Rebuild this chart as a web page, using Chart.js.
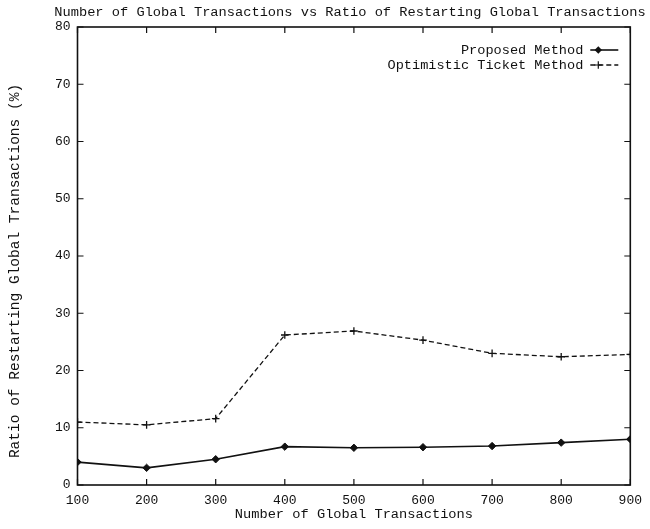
<!DOCTYPE html>
<html>
<head>
<meta charset="utf-8">
<title>Restarting Global Transactions</title>
<script src="https://cdn.jsdelivr.net/npm/chart.js@4.4.1/dist/chart.umd.min.js"></script>
<style>
    html, body { margin: 0; padding: 0; background: #fff; }
    #wrap { width: 650px; height: 529px; }
</style>
</head>
<body>
<div id="wrap"><canvas id="restartChart"></canvas></div>
<script>
// Chart data
const transactions = [100, 200, 300, 400, 500, 600, 700, 800, 900];
const proposedMethod = [4.0, 3.0, 4.5, 6.7, 6.5, 6.6, 6.8, 7.4, 8.0];
const optimisticTicket = [11.0, 10.5, 11.6, 26.2, 26.9, 25.3, 23.0, 22.4, 22.8];
const xTickValues = [100, 200, 300, 400, 500, 600, 700, 800, 900];
const yTickValues = [0, 10, 20, 30, 40, 50, 60, 70, 80];
const seriesNames = ['Proposed Method', 'Optimistic Ticket Method'];
const chartTitle = 'Number of Global Transactions vs Ratio of Restarting Global Transactions';
const xAxisTitle = 'Number of Global Transactions';
const yAxisTitle = 'Ratio of Restarting Global Transactions (%)';

const INK = '#111';
const MONO = '"Liberation Mono", "DejaVu Sans Mono", monospace';

// Chart title and the y axis title sit off-centre in the original,
// so both are drawn here instead of by the built-in title options
const titlePlugin = {
    id: 'plotTitles',
    afterDraw(chart) {
        const ctx = chart.ctx;
        ctx.save();
        ctx.fillStyle = INK;
        ctx.textAlign = 'center';
        ctx.textBaseline = 'middle';
        ctx.font = '13.7px ' + MONO;
        ctx.fillText(chartTitle, 350, 12);
        ctx.translate(15, 271);
        ctx.rotate(-Math.PI / 2);
        ctx.font = '14.5px ' + MONO;
        ctx.fillText(yAxisTitle, 0, 0);
        ctx.restore();
    }
};

// Box frame with inward ticks on all four sides
const framePlugin = {
    id: 'frameTicks',
    afterDatasetsDraw(chart) {
        const { ctx, chartArea: a, scales } = chart;
        const len = 6;
        ctx.save();
        ctx.strokeStyle = INK;
        ctx.lineWidth = 1.6;
        ctx.strokeRect(a.left, a.top, a.right - a.left, a.bottom - a.top);
        ctx.lineWidth = 1.2;
        ctx.beginPath();
        xTickValues.forEach(v => {
            const px = scales.x.getPixelForValue(v);
            ctx.moveTo(px, a.bottom); ctx.lineTo(px, a.bottom - len);
            ctx.moveTo(px, a.top); ctx.lineTo(px, a.top + len);
        });
        yTickValues.forEach(v => {
            const py = scales.y.getPixelForValue(v);
            ctx.moveTo(a.left, py); ctx.lineTo(a.left + len, py);
            ctx.moveTo(a.right, py); ctx.lineTo(a.right - len, py);
        });
        ctx.stroke();
        ctx.restore();
    }
};

function drawMarker(ctx, style, x, y, r) {
    ctx.beginPath();
    if (style === 'rectRot') {
        ctx.moveTo(x, y - r); ctx.lineTo(x + r, y);
        ctx.lineTo(x, y + r); ctx.lineTo(x - r, y);
        ctx.closePath();
        ctx.fill();
    } else {
        ctx.moveTo(x - r, y); ctx.lineTo(x + r, y);
        ctx.moveTo(x, y - r); ctx.lineTo(x, y + r);
        ctx.stroke();
    }
}

// gnuplot-style key: right-aligned text, sample to the right
const keyPlugin = {
    id: 'insideKey',
    afterDraw(chart) {
        const ctx = chart.ctx;
        const a = chart.chartArea;
        const textRight = a.right - 47;
        ctx.save();
        ctx.font = '13.6px ' + MONO;
        ctx.textAlign = 'right';
        ctx.textBaseline = 'middle';
        chart.data.datasets.forEach((ds, i) => {
            const y = a.top + 23 + i * 15;
            ctx.fillStyle = INK;
            ctx.fillText(ds.label, textRight, y);
            ctx.strokeStyle = INK;
            ctx.lineWidth = ds.borderWidth;
            ctx.setLineDash(ds.borderDash || []);
            ctx.beginPath();
            ctx.moveTo(textRight + 7, y);
            ctx.lineTo(a.right - 12, y);
            ctx.stroke();
            ctx.setLineDash([]);
            ctx.lineWidth = 1.2;
            drawMarker(ctx, ds.pointStyle, textRight + 15, y, ds.pointRadius);
        });
        ctx.restore();
    }
};

const ctx = document.getElementById('restartChart').getContext('2d');
new Chart(ctx, {
    type: 'line',
    data: {
        datasets: [{
            label: seriesNames[0],
            data: transactions.map((t, i) => ({ x: t, y: proposedMethod[i] })),
            borderColor: INK,
            backgroundColor: INK,
            borderWidth: 1.6,
            pointStyle: 'rectRot',
            pointRadius: 3.7,
            pointBorderWidth: 1,
            pointBackgroundColor: INK,
            pointBorderColor: INK,
            tension: 0
        }, {
            label: seriesNames[1],
            data: transactions.map((t, i) => ({ x: t, y: optimisticTicket[i] })),
            borderColor: INK,
            backgroundColor: INK,
            borderWidth: 1.3,
            borderDash: [5, 3],
            pointStyle: 'cross',
            pointRadius: 3.8,
            pointBorderWidth: 1.3,
            pointBorderColor: INK,
            tension: 0
        }]
    },
    options: {
        responsive: true,
        maintainAspectRatio: false,
        animation: false,
        layout: { padding: { top: 27, right: 19, bottom: 0, left: 0 } },
        plugins: {
            legend: { display: false },
            title: { display: false },
            tooltip: { enabled: false }
        },
        scales: {
            x: {
                type: 'linear',
                min: 100,
                max: 900,
                afterBuildTicks: scale => { scale.ticks = xTickValues.map(v => ({ value: v })); },
                afterFit: scale => { scale.height = 44; },
                grid: { display: false, drawTicks: false },
                border: { display: false },
                ticks: {
                    color: INK,
                    padding: 8,
                    maxRotation: 0,
                    font: { family: MONO, size: 13 }
                },
                title: {
                    display: true,
                    text: xAxisTitle,
                    color: INK,
                    font: { family: MONO, size: 13.7 },
                    padding: { top: 6, bottom: 6 }
                }
            },
            y: {
                type: 'linear',
                min: 0,
                max: 80,
                afterBuildTicks: scale => { scale.ticks = yTickValues.map(v => ({ value: v })); },
                afterFit: scale => { scale.width = 77.5; },
                grid: { display: false, drawTicks: false },
                border: { display: false },
                ticks: {
                    color: INK,
                    padding: 7,
                    font: { family: MONO, size: 13 }
                }
            }
        }
    },
    plugins: [titlePlugin, framePlugin, keyPlugin]
});
</script>
</body>
</html>
